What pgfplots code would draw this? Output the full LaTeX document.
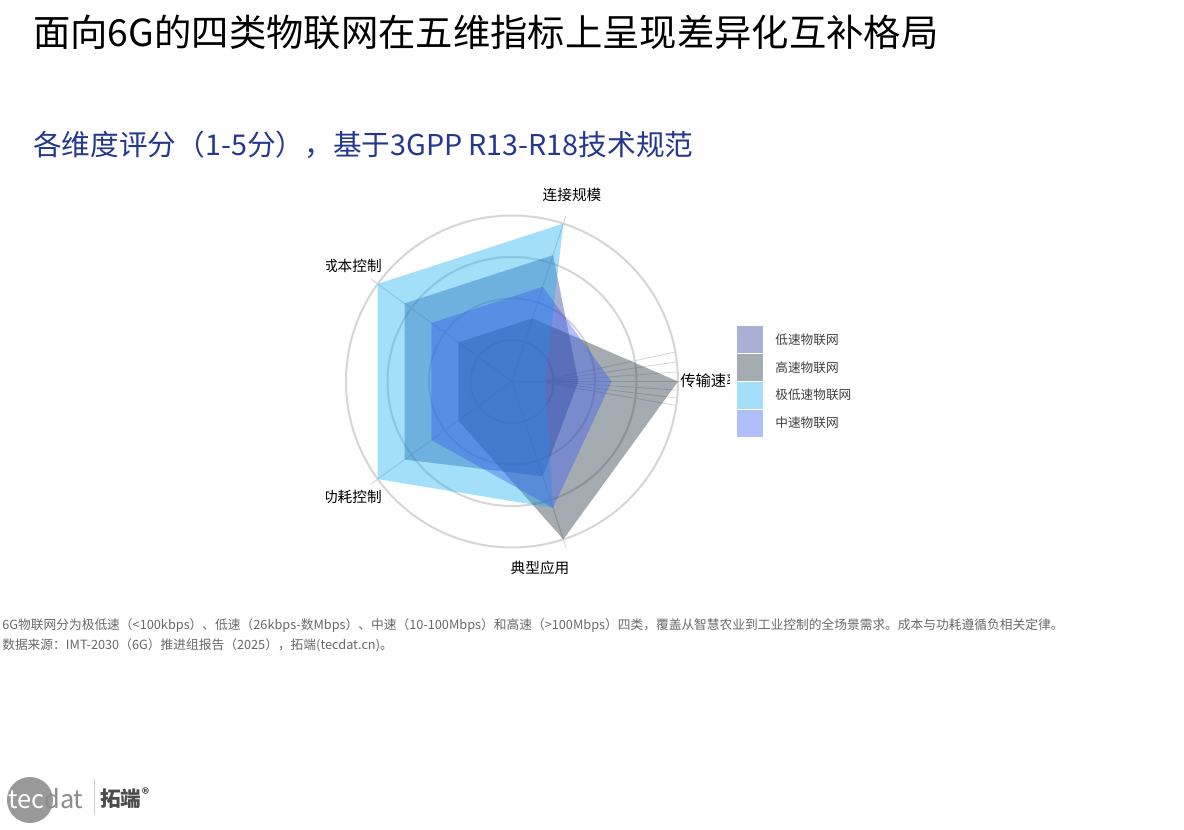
\documentclass[border=0pt]{standalone}
\usepackage{fontspec}
\setmainfont{Noto Sans CJK SC}
\usepackage{pgfplots}
\pgfplotsset{compat=1.18}

\definecolor{lowc}{RGB}{38,60,148}
\definecolor{highc}{RGB}{28,45,60}
\definecolor{ulowc}{RGB}{25,175,238}
\definecolor{midc}{RGB}{58,93,240}
\definecolor{subblue}{RGB}{36,56,140}
\definecolor{gridc}{RGB}{214,214,214}
\definecolor{notec}{RGB}{105,105,105}

\begin{document}
\begin{tikzpicture}[x=0.75pt,y=0.75pt]
% page 1184 x 829 px
\fill[white] (0,0) rectangle (1184,829);

% titles
\node[anchor=west,inner sep=0pt] at (33,797) {\fontsize{28}{30}\selectfont 面向6G的四类物联网在五维指标上呈现差异化互补格局};
\node[anchor=west,inner sep=0pt,text=subblue] at (33,684) {\fontsize{21.5}{24}\selectfont 各维度评分（1-5分），基于3GPP R13-R18技术规范};

% radar: values 0..5, center (512,381.5) px, outer ring r=166 px
\begin{axis}[
    at={(259.5pt,211.125pt)}, anchor=south west,
    width=249pt, height=249pt, scale only axis,
    xmin=-5, xmax=5, ymin=-5, ymax=5,
    hide axis, clip=false,
    data cs=polar,
    legend style={
        at={(1.178,0.667)}, anchor=north west,
        draw=none, fill=none, inner sep=0pt,
        row sep=0.75pt, column sep=0pt,
        font=\fontsize{9.5}{11}\selectfont, text=black!75,
        nodes={inner sep=0pt},
    },
    legend cell align=left,
    legend image code/.code={
        \fill[#1] (0pt,-10.1pt) rectangle (19.5pt,10.1pt);
        \path (28.5pt,0pt);
    },
]
% grid
\draw[gridc, line width=1.5pt] (axis cs:0,0) circle [radius=1.25];
\draw[gridc, line width=1.5pt] (axis cs:0,0) circle [radius=2.5];
\draw[gridc, line width=1.5pt] (axis cs:0,0) circle [radius=3.75];
\draw[gridc, line width=1.5pt] (axis cs:0,0) circle [radius=5];
\draw[gridc, line width=0.75pt] (axis cs:0,0) -- (axis cs:5.1,0);
\draw[gridc, line width=0.75pt] (axis cs:0,0) -- (axis cs:1.622,4.993);
\draw[gridc, line width=0.75pt] (axis cs:0,0) -- (axis cs:-4.247,3.086);
\draw[gridc, line width=0.75pt] (axis cs:0,0) -- (axis cs:-4.247,-3.086);
\draw[gridc, line width=0.75pt] (axis cs:0,0) -- (axis cs:1.622,-4.993);
% stray grid lines near the speed axis
\draw[gridc, line width=0.6pt] (axis cs:1.05,0.05) -- (axis cs:4.92,0.89);
\draw[gridc, line width=0.6pt] (axis cs:1.05,0.02) -- (axis cs:4.96,0.59);
\draw[gridc, line width=0.6pt] (axis cs:1.05,0.00) -- (axis cs:4.99,0.29);
\draw[gridc, line width=0.6pt] (axis cs:1.05,0.00) -- (axis cs:4.99,-0.26);
\draw[gridc, line width=0.6pt] (axis cs:1.05,-0.02) -- (axis cs:4.97,-0.50);
\draw[gridc, line width=0.6pt] (axis cs:1.05,-0.05) -- (axis cs:4.95,-0.72);

% angle: 0 传输速率, 72 连接规模, 144 成本控制, 216 功耗控制, 288 典型应用
\addplot[fill=lowc, fill opacity=0.4, draw=none]
    coordinates {(0,2) (72,4) (144,4) (216,4) (288,3) (360,2)};
\addplot[fill=highc, fill opacity=0.4, draw=none]
    coordinates {(0,5) (72,2) (144,2) (216,2) (288,5) (360,5)};
\addplot[fill=ulowc, fill opacity=0.4, draw=none]
    coordinates {(0,1) (72,5) (144,5) (216,5) (288,4) (360,1)};
\addplot[fill=midc, fill opacity=0.4, draw=none]
    coordinates {(0,3) (72,3) (144,3) (216,3) (288,4) (360,3)};
\legend{低速物联网,高速物联网,极低速物联网,中速物联网}
\end{axis}

% category labels (clipped like the reference)
\begin{scope}
\clip (326,0) rectangle (729,829);
\node[inner sep=0pt] at (572,634) {\fontsize{11}{12}\selectfont 连接规模};
\node[anchor=east,inner sep=0pt] at (382,563) {\fontsize{11}{12}\selectfont 成本控制};
\node[anchor=east,inner sep=0pt] at (382,332) {\fontsize{11}{12}\selectfont 功耗控制};
\node[inner sep=0pt] at (540,261) {\fontsize{11}{12}\selectfont 典型应用};
\node[anchor=west,inner sep=0pt] at (680,448) {\fontsize{11.5}{12}\selectfont 传输速率};
\end{scope}

% notes
\node[anchor=west,inner sep=0pt,text=notec] at (2,203) {\fontsize{9.55}{11}\selectfont 6G物联网分为极低速（<100kbps）、低速（26kbps-数Mbps）、中速（10-100Mbps）和高速（>100Mbps）四类，覆盖从智慧农业到工业控制的全场景需求。成本与功耗遵循负相关定律。};
\node[anchor=west,inner sep=0pt,text=notec] at (2,184) {\fontsize{9.55}{11}\selectfont 数据来源：IMT-2030（6G）推进组报告（2025），拓端(tecdat.cn)。};

% logo
\fill[black!40] (30,29) circle (23);
\node[anchor=west,inner sep=0pt] at (8,30) {\fontsize{19}{19}\selectfont\textcolor{white}{tec}\textcolor{black!45}{dat}};
\draw[black!20, line width=0.75pt] (94,14) -- (94,50);
\node[anchor=west,inner sep=0pt] at (100,31) {\fontsize{15.5}{16}\selectfont\bfseries\textcolor{black!70}{拓端\textsuperscript{®}}};
\end{tikzpicture}
\end{document}
